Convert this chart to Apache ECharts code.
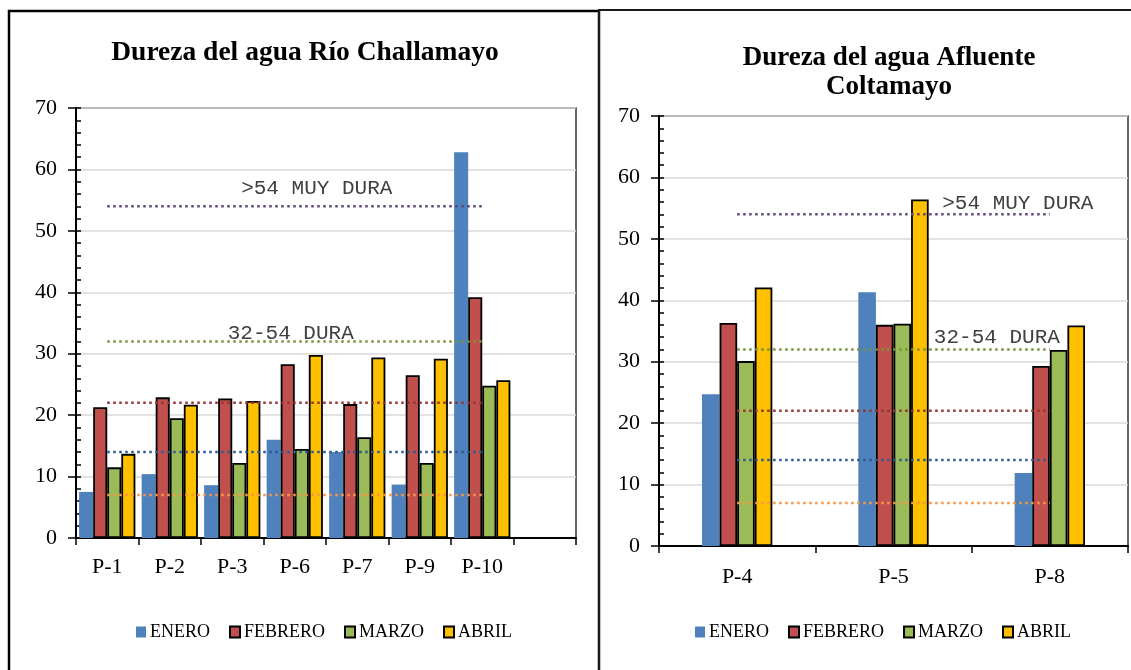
<!DOCTYPE html>
<html>
<head>
<meta charset="utf-8">
<script src="https://cdn.jsdelivr.net/npm/echarts@6/dist/echarts.min.js"></script>
<style>
  html, body { margin: 0; padding: 0; background: #fff; }
  #chart { width: 1131px; height: 670px; }
</style>
</head>
<body>
<div id="chart"></div>
<script>
// ---- Río Challamayo ----
const catRio = ['P-1', 'P-2', 'P-3', 'P-6', 'P-7', 'P-9', 'P-10', ''];
const eneroRio   = [7.5, 10.4, 8.6, 16.0, 14.0, 8.7, 62.8];
const febreroRio = [21.3, 22.9, 22.7, 28.3, 21.8, 26.5, 39.2];
const marzoRio   = [11.5, 19.5, 12.2, 14.5, 16.4, 12.2, 24.8];
const abrilRio   = [13.7, 21.7, 22.3, 29.8, 29.4, 29.2, 25.7];

// ---- Afluente Coltamayo ----
const catAfl = ['P-4', 'P-5', 'P-8'];
const eneroAfl   = [24.7, 41.3, 11.9];
const febreroAfl = [36.3, 36.0, 29.3];
const marzoAfl   = [30.1, 36.2, 31.9];
const abrilAfl   = [42.1, 56.4, 35.9];

// hardness class limits (mg/L)
const limitValues = [54, 32, 22, 14, 7];
const limitLabels = ['>54 MUY DURA', '32-54 DURA', '', '', ''];
const monthNames = ['ENERO', 'FEBRERO', 'MARZO', 'ABRIL'];

const monthColors = ['#4f81bd', '#c0504d', '#9bbb59', '#ffc000'];
const limitColors = ['#5f497a', '#77933c', '#943634', '#2e5b8f', '#f79646'];
const serif = '"Liberation Serif", "Times New Roman", serif';
const mono = '"Liberation Mono", "Courier New", monospace';

const chart = echarts.init(document.getElementById('chart'));

function yAxes(gridIndex) {
  return [
    {
      gridIndex, type: 'value', min: 0, max: 70, interval: 10,
      axisLine: { show: true, lineStyle: { color: '#000', width: 2 } },
      axisTick: { show: true, inside: false, length: 8, lineStyle: { color: '#000', width: 1.5 } },
      axisLabel: { fontFamily: serif, fontSize: 22, color: '#000', margin: 19 },
      splitLine: { show: true, lineStyle: { color: '#d9d9d9', width: 1.5 } }
    },
    {
      gridIndex, type: 'value', min: 0, max: 70, interval: 10, position: 'left',
      axisLine: { show: false },
      axisTick: { show: true, inside: true, length: 5, lineStyle: { color: '#000', width: 1.5 } },
      minorTick: { show: true, splitNumber: 5, length: 5, lineStyle: { color: '#000', width: 1.5 } },
      axisLabel: { show: false },
      splitLine: { show: false }
    }
  ];
}

function xAxis(gridIndex, cats, margin) {
  return {
    gridIndex, type: 'category', data: cats, boundaryGap: true,
    axisLine: { show: true, lineStyle: { color: '#000', width: 2 } },
    axisTick: { show: true, inside: false, length: 7, alignWithLabel: false, lineStyle: { color: '#000', width: 1.5 } },
    axisLabel: { fontFamily: serif, fontSize: 22, color: '#000', margin, interval: 0 },
    splitLine: { show: false }
  };
}

function barSeries(axisIdx, yIdx, values, gapPct) {
  return values.map((vals, i) => ({
    name: monthNames[i],
    type: 'bar',
    xAxisIndex: axisIdx,
    yAxisIndex: yIdx,
    data: vals,
    barGap: '0%',
    barCategoryGap: gapPct,
    z: 2,
    itemStyle: i === 0
      ? { color: monthColors[i], borderWidth: 0 }
      : { color: monthColors[i], borderColor: '#000', borderWidth: 1.8 }
  }));
}

// dotted threshold lines from first to last sampling point
function limitSeries(axisIdx, yIdx, count, labelIndex, offsets) {
  return limitValues.map((v, k) => {
    const data = [];
    for (let i = 0; i < count; i++) {
      if (limitLabels[k] && i === labelIndex) {
        data.push({
          value: v,
          label: {
            show: true, position: 'inside', formatter: limitLabels[k],
            fontFamily: mono, fontSize: 21, color: '#404040',
            offset: offsets[k]
          }
        });
      } else {
        data.push(v);
      }
    }
    return {
      type: 'line', xAxisIndex: axisIdx, yAxisIndex: yIdx, data,
      symbol: 'circle', symbolSize: 0, showSymbol: true, silent: true,
      z: 5, animation: false,
      lineStyle: { color: limitColors[k], width: 2.5, type: [2.5, 3.5] }
    };
  });
}

const legendBase = {
  data: monthNames, icon: 'rect', itemWidth: 10, itemHeight: 11, itemGap: 19,
  top: 623, padding: 0,
  textStyle: { fontFamily: serif, fontSize: 18, color: '#000', padding: [0, 0, 0, -1] }
};

chart.setOption({
  backgroundColor: '#fff',
  animation: false,
  title: [
    {
      text: 'Dureza del agua Río Challamayo', left: 305, top: 39, textAlign: 'center', padding: 0,
      textStyle: { fontFamily: serif, fontWeight: 'bold', fontSize: 27.5, color: '#000' }
    },
    {
      text: 'Dureza del agua Afluente\nColtamayo', left: 889, top: 44, textAlign: 'center', padding: 0,
      textStyle: { fontFamily: serif, fontWeight: 'bold', fontSize: 27, lineHeight: 29, color: '#000' }
    }
  ],
  legend: [
    Object.assign({}, legendBase, { left: 136 }),
    Object.assign({}, legendBase, { left: 695 })
  ],
  grid: [
    { left: 76, top: 108, width: 500, height: 430, show: true, borderColor: '#333', borderWidth: 1.5 },
    { left: 659, top: 116, width: 469, height: 430, show: true, borderColor: '#333', borderWidth: 1.5 }
  ],
  xAxis: [xAxis(0, catRio, 18), xAxis(1, catAfl, 20)],
  yAxis: [...yAxes(0), ...yAxes(1)],
  series: [
    ...barSeries(0, 0, [eneroRio, febreroRio, marzoRio, abrilRio], '10%'),
    ...barSeries(1, 2, [eneroAfl, febreroAfl, marzoAfl, abrilAfl], '55%'),
    ...limitSeries(0, 0, catRio.length - 1, 3, [[22, -18], [-4, -8]]),
    ...limitSeries(1, 2, catAfl.length, 2, [[-32, -11], [-53, -12]])
  ],
  graphic: [
    { type: 'rect', shape: { x: 9, y: 11, width: 590, height: 700 }, style: { fill: 'none', stroke: '#000', lineWidth: 2.5 }, silent: true },
    { type: 'rect', shape: { x: 599, y: 10, width: 600, height: 700 }, style: { fill: 'none', stroke: '#1a1a1a', lineWidth: 2 }, silent: true }
  ]
});
</script>
</body>
</html>
